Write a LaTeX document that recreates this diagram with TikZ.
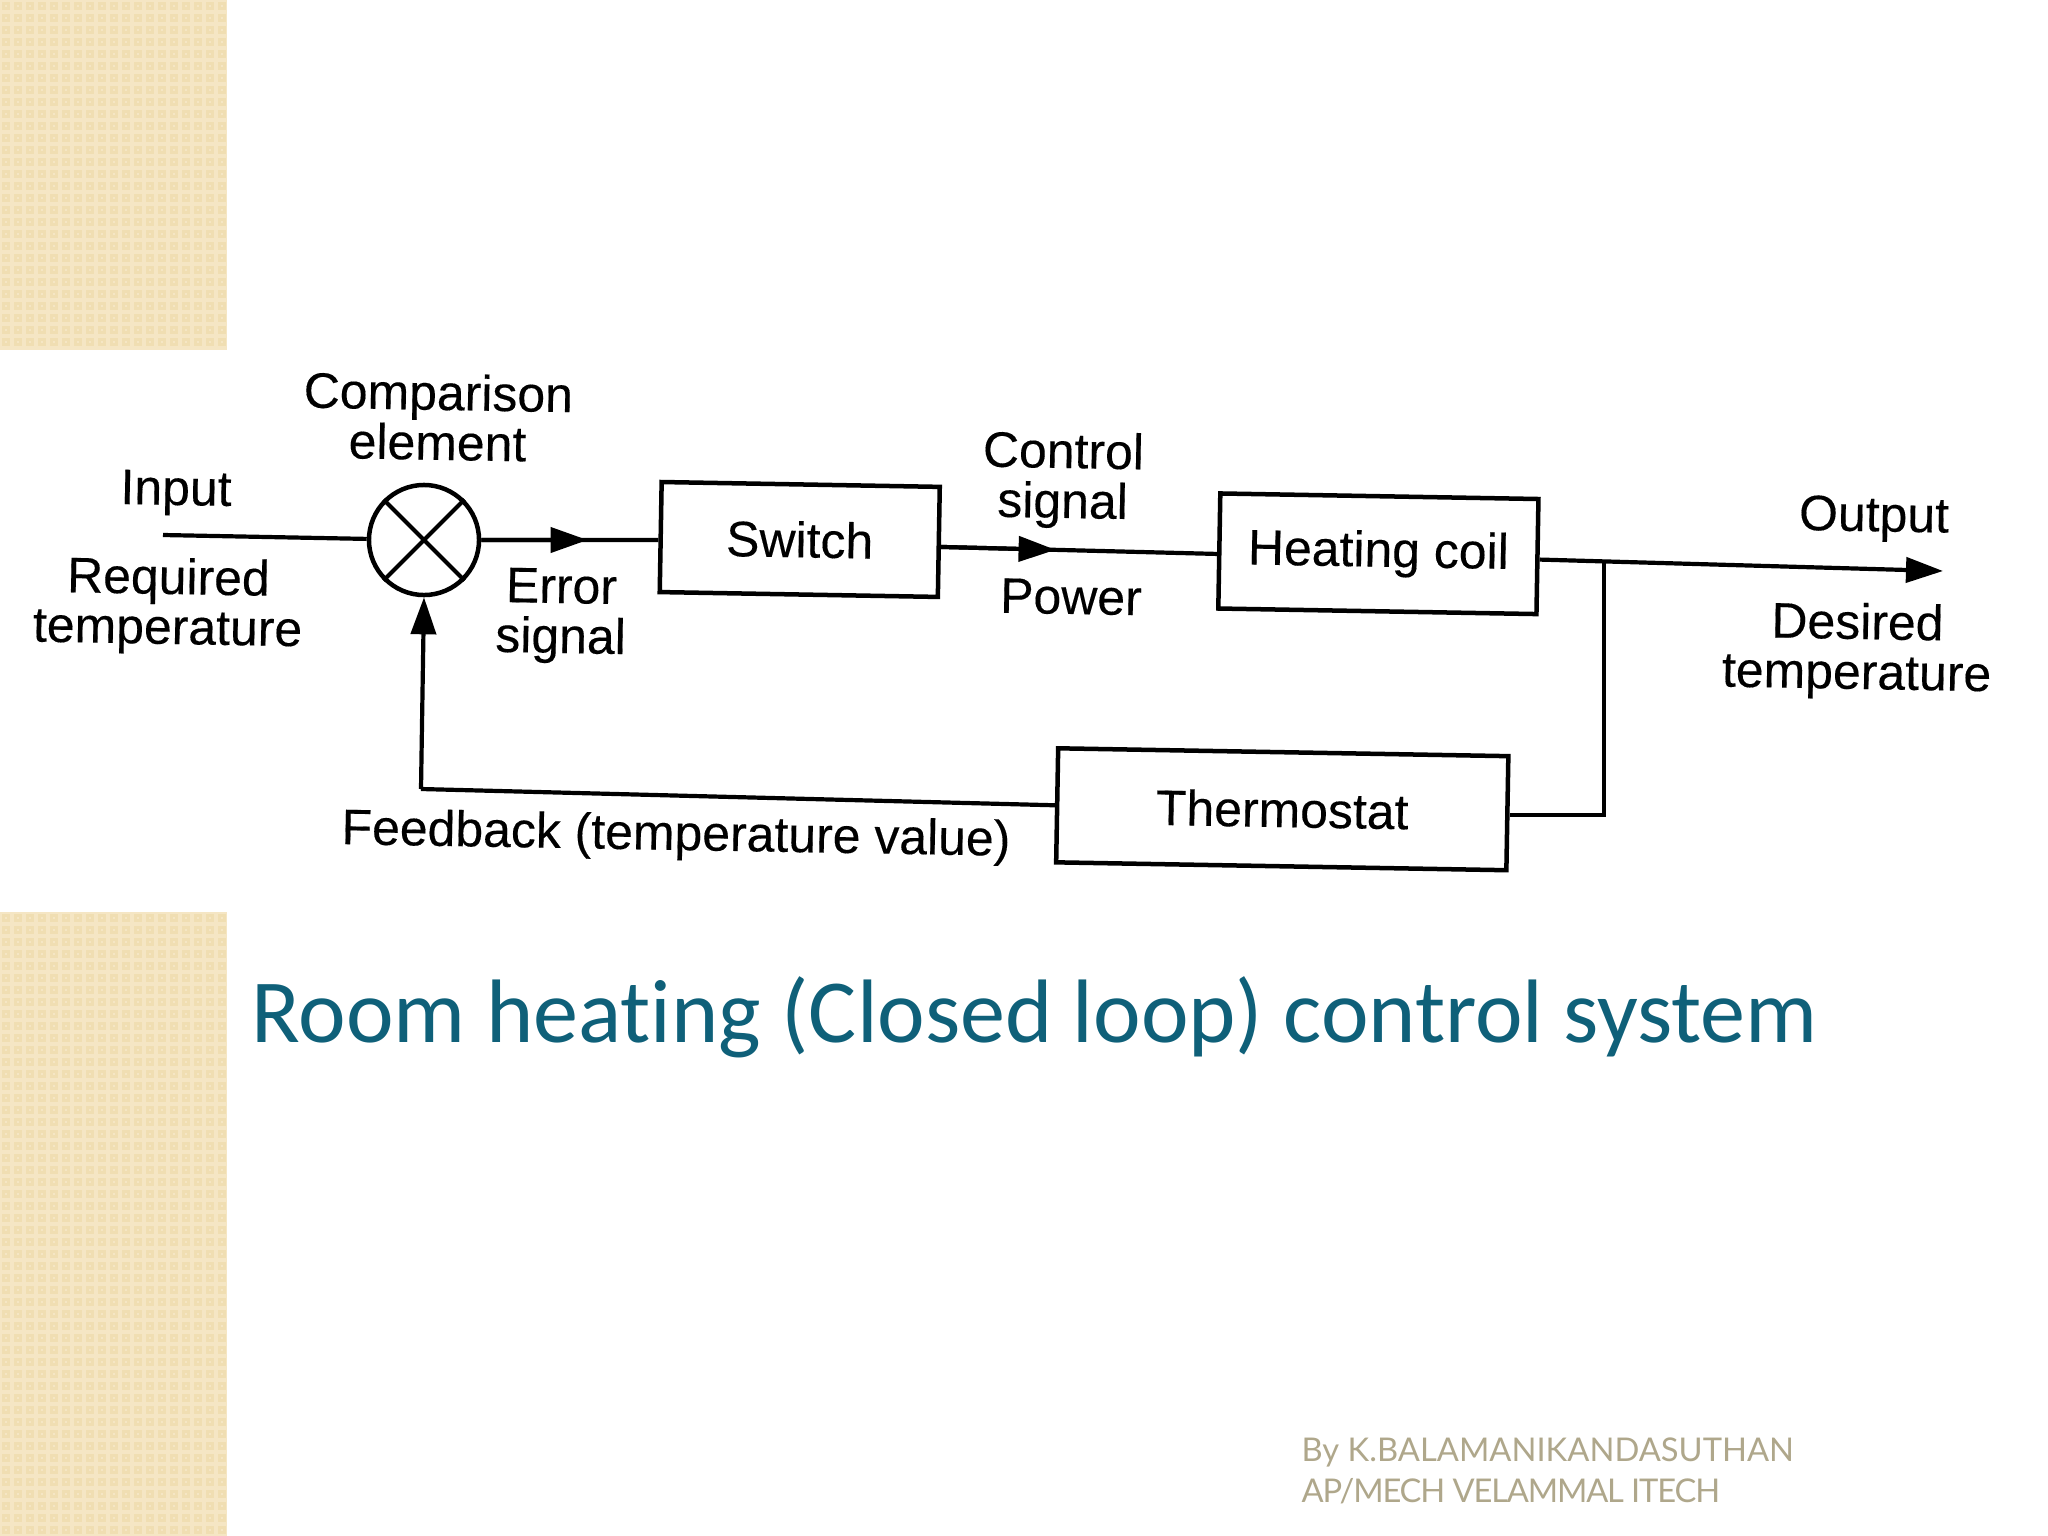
\documentclass[tikz,border=0pt]{standalone}
\usepackage{fontspec}
\setmainfont{Liberation Sans}[FakeBold=0.25]
\newfontfamily\titlefont{Carlito}[Ligatures=NoCommon]
\newfontfamily\footfont{Lato}
\usetikzlibrary{positioning}
\usetikzlibrary{arrows.meta}
\definecolor{bandtan}{HTML}{F5E6C4}
\definecolor{banddot}{HTML}{F0DEB2}
\definecolor{titleteal}{HTML}{0F6079}
\definecolor{footgrey}{HTML}{AFA78B}

\begin{document}
\begin{tikzpicture}[
	x=0.01cm, y=-0.01cm,
	block/.style={draw, line width=0.45mm, rotate=-1, inner sep=0pt, font=\fontsize{14.2}{14.2}\selectfont},
	compare/.style={circle, draw, line width=0.45mm, minimum size=1.1cm, inner sep=0pt},
	wire/.style={line width=0.42mm},
	flow/.style={line width=0.42mm, -{Triangle[length=3.7mm, width=2.5mm]}},
	caption/.style={font=\fontsize{14.2}{14.2}\selectfont, align=center, rotate=-1, inner sep=0pt},
]
	\useasboundingbox (0,0) rectangle (2048,1536);

	% side bands
	\fill[bandtan] (0,0) rectangle (227,350);
	\fill[bandtan] (0,912) rectangle (227,1536);
	\foreach \i in {0,...,18} {
		\foreach \j in {0,...,28} {
			\fill[banddot] (\i*12+2,\j*12+2) rectangle ++(8,8);
			\fill[bandtan] (\i*12+5,\j*12+5) rectangle ++(2,2);
		}
		\foreach \j in {0,...,51} {
			\fill[banddot] (\i*12+2,\j*12+914) rectangle ++(8,8);
			\fill[bandtan] (\i*12+5,\j*12+917) rectangle ++(2,2);
		}
	}

	% blocks
	\node[compare] (cmp) at (424,540) {};
	\draw[line width=0.4mm] (cmp.45) -- (cmp.225);
	\draw[line width=0.4mm] (cmp.135) -- (cmp.315);

	\node[block, minimum width=2.78cm, minimum height=1.10cm, right=1.77cm of cmp, yshift=0.03cm] (sw) {Switch};
	\node[block, minimum width=3.18cm, minimum height=1.15cm, right=2.76cm of sw, yshift=-0.09cm] (coil) {Heating coil};
	\node[block, minimum width=4.50cm, minimum height=1.14cm, below=1.38cm of coil, xshift=-0.94cm] (thermo) {Thermostat};

	% free ends
	\coordinate (in) at (163,535);
	\coordinate (out) at (1943,571);
	\coordinate (tap) at (1604,562);
	\coordinate (fbcorner) at (421,789);
	\path (cmp) -- coordinate[pos=.6] (errtip) ([yshift=-0.03cm]sw.west);
	\path ([yshift=-0.05cm]sw.east) -- coordinate[pos=.415] (ctltip) ([yshift=-0.03cm]coil.west);

	% connectors
	\draw[wire] (in) -- (cmp);
	\draw[wire] (cmp) -- ([yshift=-0.03cm]sw.west);
	\draw[flow] (cmp) -- (errtip);
	\draw[wire] ([yshift=-0.05cm]sw.east) -- ([yshift=-0.03cm]coil.west);
	\draw[flow] ([yshift=-0.05cm]sw.east) -- (ctltip);
	\draw[flow] ([yshift=-0.03cm]coil.east) -- (out);
	\draw[wire] (tap) |- ([yshift=-0.02cm]thermo.east);
	\draw[wire] (thermo.west) -- (fbcorner);
	\draw[flow] (fbcorner) -- (cmp.south);

	% labels
	\node[caption] (cmplabel) at (438,417) {Comparison\\element};
	\node[caption] (inlabel) at (176,493) {Input};
	\node[caption] (reqlabel) at (168,606) {Required\\temperature};
	\node[caption] (errlabel) at (561,616) {Error\\signal};
	\node[caption] (ctllabel) at (1063,480) {Control\\signal};
	\node[caption] (powlabel) at (1071,597) {Power};
	\node[caption] (outlabel) at (1874,519) {Output};
	\node[caption] (deslabel) at (1857,651) {Desired\\temperature};
	\node[caption] (fblabel) at (676,837) {Feedback (temperature value)};

	% slide text
	\node[text=titleteal, font=\titlefont\fontsize{25.63}{25.63}\selectfont, anchor=west, inner sep=0pt] (title) at (251,1017) {Room heating (Closed loop) control system};
	\node[text=footgrey, font=\footfont\fontsize{9.3}{11.6}\selectfont, anchor=north west, align=left, inner sep=0pt] (byline) at (1301,1437) {By K.BALAMANIKANDASUTHAN\\\addfontfeature{LetterSpace=-3.6}AP/MECH VELAMMAL ITECH};
\end{tikzpicture}
\end{document}
